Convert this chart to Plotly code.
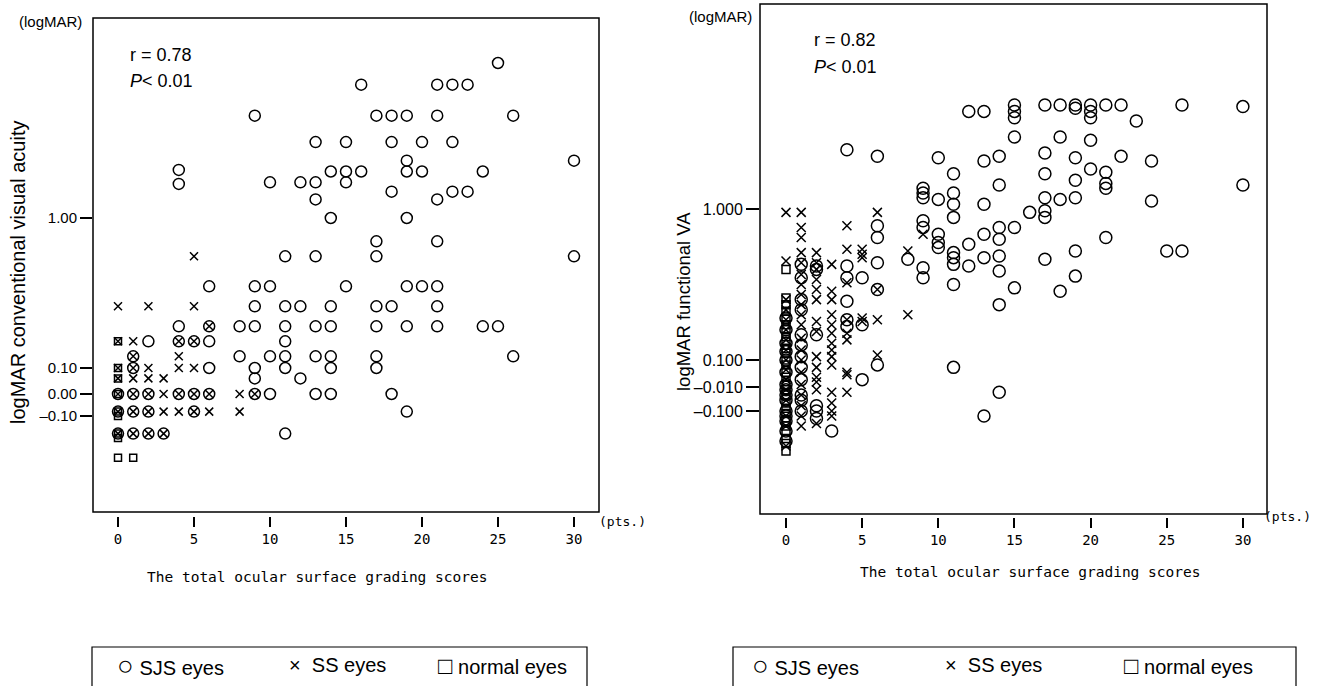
import numpy as np
import plotly.graph_objects as go

W, H = 1318, 686

# ------------------------------------------------------------------ data
# Left panel: logMAR conventional visual acuity vs. grading score
LEFT_SJS_SCORE = [25,
                  16, 21, 22, 23,
                  9, 17, 18, 19, 21, 26,
                  13, 15, 18, 20, 22,
                  19, 30,
                  4, 14, 15, 16, 19, 20, 24,
                  4, 10, 12, 13, 15,
                  18, 22, 23,
                  13, 21,
                  14, 19,
                  17, 21,
                  11, 13, 17, 30,
                  6, 9, 10, 15, 19, 20, 21,
                  9, 11, 12, 14, 17, 18, 21,
                  4, 6, 8, 9, 11, 13, 14, 17, 19, 21, 24, 25,
                  2, 4, 5, 6, 11,
                  1, 8, 10, 11, 13, 14, 17, 26,
                  1, 6, 9, 11, 14, 17,
                  9, 12,
                  0, 1, 2, 4, 5, 6, 9, 10, 13, 14, 18,
                  0, 1, 2, 5, 19,
                  0, 1, 2, 3, 11]
LEFT_SJS_LOGMAR = [2.00,
                   1.86, 1.86, 1.86, 1.86,
                   1.66, 1.66, 1.66, 1.66, 1.66, 1.66,
                   1.49, 1.49, 1.49, 1.49, 1.49,
                   1.37, 1.37,
                   1.31, 1.30, 1.30, 1.30, 1.30, 1.30, 1.30,
                   1.22, 1.23, 1.23, 1.23, 1.23,
                   1.17, 1.17, 1.17,
                   1.12, 1.12,
                   1.00, 1.00,
                   0.86, 0.86,
                   0.77, 0.77, 0.77, 0.77,
                   0.59, 0.59, 0.59, 0.59, 0.59, 0.59, 0.59,
                   0.47, 0.47, 0.47, 0.47, 0.47, 0.47, 0.47,
                   0.35, 0.35, 0.35, 0.35, 0.35, 0.35, 0.35, 0.35, 0.35, 0.35, 0.35, 0.35,
                   0.26, 0.26, 0.26, 0.26, 0.26,
                   0.17, 0.17, 0.17, 0.17, 0.17, 0.17, 0.17, 0.17,
                   0.10, 0.10, 0.10, 0.10, 0.10, 0.10,
                   0.06, 0.06,
                   0.00, 0.00, 0.00, 0.00, 0.00, 0.00, 0.00, 0.00, 0.00, 0.00, 0.00,
                   -0.08, -0.08, -0.08, -0.08, -0.08,
                   -0.18, -0.18, -0.18, -0.18, -0.18]
LEFT_SS_SCORE = [5,
                 0, 2, 5,
                 6,
                 0, 1, 4, 5,
                 1, 4,
                 0, 1, 2, 4, 5,
                 0, 1, 2, 3,
                 0, 1, 2, 3, 4, 5, 6, 8, 9,
                 0, 1, 2, 3, 4, 5, 6, 8,
                 0, 1, 2, 3]
LEFT_SS_LOGMAR = [0.77,
                  0.47, 0.47, 0.47,
                  0.35,
                  0.26, 0.26, 0.26, 0.26,
                  0.17, 0.17,
                  0.10, 0.10, 0.10, 0.10, 0.10,
                  0.06, 0.06, 0.06, 0.06,
                  0.00, 0.00, 0.00, 0.00, 0.00, 0.00, 0.00, 0.00, 0.00,
                  -0.08, -0.08, -0.08, -0.08, -0.08, -0.08, -0.08, -0.08,
                  -0.18, -0.18, -0.18, -0.18]
LEFT_NORMAL_SCORE = [0, 0, 0, 0, 0, 0, 0, 0, 0, 1]
LEFT_NORMAL_LOGMAR = [0.26, 0.10, 0.06, 0.00, -0.08, -0.10, -0.18, -0.20, -0.29, -0.29]

# Right panel: logMAR functional VA vs. grading score
RIGHT_SJS_SCORE = ([0] * 15 + [1] * 12 + [2] * 6 + [3] * 1 + [4] * 6 + [5] * 3 + [6] * 6 +
                   [8] * 1 + [9] * 7 + [10] * 5 + [11] * 9 + [12] * 3 + [13] * 6 + [14] * 8 +
                   [15] * 6 + [16] * 1 + [17] * 7 + [18] * 4 + [19] * 7 + [20] * 5 + [21] * 5 +
                   [22] * 2 + [23] * 1 + [24] * 2 + [25] * 1 + [26] * 2 + [30] * 2)
RIGHT_SJS_LOGMAR = [0.35, 0.28, 0.20, 0.15, 0.10, 0.05, 0.00, -0.02, -0.04, -0.06, -0.10,
                    -0.12, -0.14, -0.18, -0.22,
                    0.67, 0.59, 0.46, 0.40, 0.25, 0.19, 0.12, 0.07, 0.02, -0.04, -0.06, -0.10,
                    0.66, 0.64, 0.25, -0.08, -0.10, -0.13,
                    -0.18,
                    1.37, 0.66, 0.59, 0.45, 0.34, 0.30,
                    0.59, 0.31, 0.02,
                    1.33, 0.90, 0.83, 0.68, 0.52, 0.08,
                    0.70,
                    1.13, 1.10, 1.07, 0.93, 0.89, 0.65, 0.59,
                    1.32, 1.06, 0.85, 0.80, 0.77,
                    1.22, 1.10, 1.03, 0.95, 0.74, 0.71, 0.67, 0.55, 0.07,
                    1.61, 0.79, 0.66,
                    1.61, 1.30, 1.03, 0.85, 0.71, -0.12,
                    1.33, 1.15, 0.89, 0.82, 0.72, 0.63, 0.43, -0.03,
                    1.65, 1.61, 1.57, 1.45, 0.89, 0.53,
                    0.98,
                    1.65, 1.35, 1.22, 1.07, 0.99, 0.95, 0.70,
                    1.65, 1.45, 1.06, 0.51,
                    1.65, 1.63, 1.32, 1.18, 1.07, 0.75, 0.60,
                    1.65, 1.61, 1.57, 1.43, 1.25,
                    1.65, 1.23, 1.16, 1.13, 0.83,
                    1.65, 1.33,
                    1.55,
                    1.30, 1.05,
                    0.75,
                    1.65, 0.75,
                    1.64, 1.15]
RIGHT_SS_SCORE = ([0] * 16 + [1] * 20 + [2] * 14 + [3] * 14 + [4] * 9 + [5] * 5 + [6] * 4 +
                  [8] * 2 + [9] * 1)
RIGHT_SS_LOGMAR = [0.98, 0.69, 0.46, 0.40, 0.34, 0.28, 0.22, 0.16, 0.10, 0.06, 0.02, -0.02,
                   -0.06, -0.12, -0.16, -0.24,
                   0.98, 0.89, 0.83, 0.74, 0.68, 0.61, 0.55, 0.49, 0.43, 0.37,
                   0.31, 0.23, 0.16, 0.10, 0.05, 0.00, -0.04, -0.08, -0.12, -0.16,
                   0.74, 0.68, 0.64, 0.58, 0.52, 0.46, 0.33, 0.27, 0.12, 0.07, 0.03, 0.01, -0.02, -0.15,
                   0.67, 0.51, 0.46, 0.37, 0.31, 0.26, 0.20, 0.16, 0.12, 0.08, -0.03, -0.07, -0.10, -0.12,
                   0.90, 0.76, 0.56, 0.34, 0.26, 0.22, 0.05, 0.04, -0.03,
                   0.76, 0.73, 0.71, 0.35, 0.33,
                   0.98, 0.52, 0.34, 0.13,
                   0.75, 0.37,
                   0.85]
RIGHT_NORMAL_SCORE = [0] * 27
RIGHT_NORMAL_LOGMAR = [0.64, 0.47, 0.43, 0.39, 0.35, 0.31, 0.28, 0.24, 0.21, 0.17, 0.14, 0.10,
                       0.08, 0.05, 0.03, 0.00, -0.02, -0.04, -0.07, -0.09, -0.11, -0.14,
                       -0.16, -0.18, -0.21, -0.23, -0.26]

X_TICKS = [0, 5, 10, 15, 20, 25, 30]
LEFT_Y_TICKS = [1.00, 0.10, 0.00, -0.10]
LEFT_Y_TICKTEXT = ["1.00", "0.10", "0.00", "\u20130.10"]
RIGHT_Y_TICKS = [1.000, 0.100, -0.010, -0.100]
RIGHT_Y_TICKTEXT = ["1.000", "0.100", "\u20130.010", "\u20130.100"]

# Non-linear vertical scales of the original figure (logMAR -> screen offset)
LEFT_SCALE_LOGMAR = [-0.60, -0.10, 0.00, 0.10, 1.00, 2.40]
LEFT_SCALE_POS = [526, 416, 394, 368, 218, 1]
RIGHT_SCALE_LOGMAR = [-0.60, -0.10, -0.01, 0.10, 1.00, 2.40]
RIGHT_SCALE_POS = [536, 411, 387, 360, 209, -15]


def to_axis(v, lm, pos):
    return [-float(p) for p in np.interp(v, lm, pos)]


def px(x):
    return x / W


def py(y):
    return 1 - y / H


SANS = "Liberation Sans, Arial, sans-serif"
MONO = "DejaVu Sans Mono, monospace"

fig = go.Figure()


def add_series(score, logmar, lm, pos, symbol, size, xa, ya):
    fig.add_trace(go.Scatter(
        x=score, y=to_axis(logmar, lm, pos), mode="markers", xaxis=xa, yaxis=ya,
        showlegend=False, hoverinfo="skip",
        marker=dict(symbol=symbol, size=size, color="black",
                    line=dict(color="black", width=1.5))))


add_series(LEFT_NORMAL_SCORE, LEFT_NORMAL_LOGMAR, LEFT_SCALE_LOGMAR, LEFT_SCALE_POS, "square-open", 7, "x", "y")
add_series(LEFT_SS_SCORE, LEFT_SS_LOGMAR, LEFT_SCALE_LOGMAR, LEFT_SCALE_POS, "x-thin-open", 8, "x", "y")
add_series(LEFT_SJS_SCORE, LEFT_SJS_LOGMAR, LEFT_SCALE_LOGMAR, LEFT_SCALE_POS, "circle-open", 11, "x", "y")
add_series(RIGHT_NORMAL_SCORE, RIGHT_NORMAL_LOGMAR, RIGHT_SCALE_LOGMAR, RIGHT_SCALE_POS, "square-open", 8, "x2", "y2")
add_series(RIGHT_SS_SCORE, RIGHT_SS_LOGMAR, RIGHT_SCALE_LOGMAR, RIGHT_SCALE_POS, "x-thin-open", 9, "x2", "y2")
add_series(RIGHT_SJS_SCORE, RIGHT_SJS_LOGMAR, RIGHT_SCALE_LOGMAR, RIGHT_SCALE_POS, "circle-open", 12, "x2", "y2")

common_x = dict(showgrid=False, zeroline=False, showline=False, ticks="outside", ticklen=10,
                tickwidth=1.5, tickcolor="black", tickvals=X_TICKS,
                tickfont=dict(family=MONO, size=14, color="black"), anchor="free")
common_y = dict(showgrid=False, zeroline=False, showline=False, ticks="outside",
                tickwidth=1.5, tickcolor="black")

fig.update_layout(
    width=W, height=H, autosize=False,
    margin=dict(l=0, r=0, t=0, b=0),
    paper_bgcolor="white", plot_bgcolor="white",
    xaxis=dict(domain=[px(93), px(599)], range=[(93 - 118) / 15.2, (599 - 118) / 15.2],
               position=py(516), **common_x),
    yaxis=dict(domain=[py(512), py(18)], range=[-512, -18], anchor="x",
               tickvals=to_axis(LEFT_Y_TICKS, LEFT_SCALE_LOGMAR, LEFT_SCALE_POS),
               ticktext=LEFT_Y_TICKTEXT, ticklen=12,
               tickfont=dict(family=SANS, size=15, color="black"), **common_y),
    xaxis2=dict(domain=[px(760), px(1267)], range=[(760 - 786) / 15.23, (1267 - 786) / 15.23],
                position=py(517), **common_x),
    yaxis2=dict(domain=[py(514), py(4)], range=[-514, -4], anchor="x2",
                tickvals=to_axis(RIGHT_Y_TICKS, RIGHT_SCALE_LOGMAR, RIGHT_SCALE_POS),
                ticktext=RIGHT_Y_TICKTEXT, ticklen=13,
                tickfont=dict(family=SANS, size=16, color="black"), **common_y),
)

# plot frames
for xr, yr in (("x domain", "y domain"), ("x2 domain", "y2 domain")):
    fig.add_shape(type="rect", xref=xr, yref=yr, x0=0, x1=1, y0=0, y1=1,
                  line=dict(color="black", width=1.5))

# legend boxes
for x0, x1 in ((92, 587), (733, 1296)):
    fig.add_shape(type="rect", xref="paper", yref="paper", x0=px(x0), x1=px(x1),
                  y0=py(700), y1=py(647), line=dict(color="black", width=1.2))


def note(text, x, y, size, family=SANS, xanchor="center", angle=0):
    fig.add_annotation(text=text, x=px(x), y=py(y), xref="paper", yref="paper",
                       showarrow=False, xanchor=xanchor, yanchor="middle", textangle=angle,
                       font=dict(family=family, size=size, color="black"))


def sym(ch, size=24):
    return "<span style='font-size:%dpx'>%s</span>" % (size, ch)


# left panel texts
note("(logMAR)", 50, 22, 15)
note("r = 0.78", 128, 55, 18, xanchor="left")
note("<i>P</i>&lt; 0.01", 128, 81, 18, xanchor="left")
note("logMAR conventional visual acuity", 18, 272, 20, angle=-90)
note("The total ocular surface grading scores", 317, 577, 14.5, family=MONO)
note("(pts.)", 622, 521, 13, family=MONO)
note(sym("\u25cb", 28) + " SJS eyes", 170, 665, 20)
note("\u00d7  SS eyes", 337, 665, 20)
note(sym("\u25a1", 24) + " normal eyes", 502, 665, 20)

# right panel texts
note("(logMAR)", 721, 16, 15)
note("r = 0.82", 812, 40, 18, xanchor="left")
note("<i>P</i>&lt; 0.01", 812, 67, 18, xanchor="left")
note("logMAR functional VA", 683, 302, 18.5, angle=-90)
note("The total ocular surface grading scores", 1030, 572, 14.5, family=MONO)
note("(pts.)", 1287, 516, 13, family=MONO)
note(sym("\u25cb", 28) + " SJS eyes", 805, 665, 20)
note("\u00d7  SS eyes", 993, 665, 20)
note(sym("\u25a1", 24) + " normal eyes", 1188, 665, 20)

fig.write_html("out.html", config={"displayModeBar": False},
               post_script="document.body.style.margin='0px';")
